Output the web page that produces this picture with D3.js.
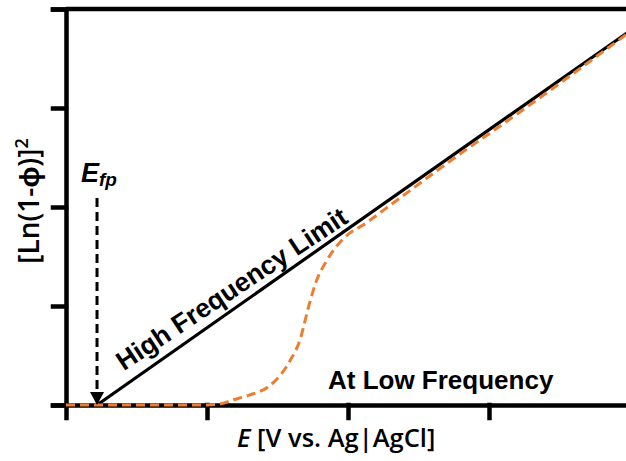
<!DOCTYPE html>
<html>
<head>
<meta charset="utf-8">
<script src="https://unpkg.com/d3@7/dist/d3.min.js"></script>
<style>
  body { margin: 0; background: #fff; }
  svg { display: block; }
</style>
</head>
<body>
<div class="container"></div>
<script>
// values (arbitrary units, ticks at 0..4)
const xTicks = [0, 1, 2, 3];
const yTicks = [0, 1, 2, 3, 4];
const efp = 0.22;
const highX = [0.22, 4.0];
const highY = [0, 3.78];
const lowX = [0, 0.95, 1.09, 1.18, 1.30, 1.43, 1.52, 1.59, 1.66, 1.72, 1.77, 1.85, 1.96, 2.13, 2.32, 2.72, 3.22, 4.0];
const lowY = [0, 0, 0.01, 0.05, 0.10, 0.18, 0.30, 0.45, 0.66, 0.99, 1.23, 1.46, 1.67, 1.84, 2.04, 2.46, 2.96, 3.77];

const w = 626, h = 461;
const svg = d3.select('.container').append('svg')
    .attr('width', w)
    .attr('height', h);

const x = d3.scaleLinear().domain([0, 4]).range([66, 630]);
const y = d3.scaleLinear().domain([0, 4]).range([405, 9]);

const yAxis = d3.axisLeft(y).tickValues(yTicks).tickSize(13).tickFormat('');
const xAxis = d3.axisBottom(x).tickValues(xTicks).tickSize(13).tickSizeOuter(0).tickFormat('');

svg.append('g')
    .attr('transform', 'translate(0,' + y(0) + ')')
    .call(xAxis);
svg.append('g')
    .attr('transform', 'translate(' + x(0) + ',0)')
    .call(yAxis);
svg.selectAll('.domain, .tick line')
    .attr('stroke', '#000')
    .attr('stroke-width', 4.5)
    .attr('stroke-linecap', 'square');

// top frame line
svg.append('line')
    .attr('x1', x(0)).attr('x2', x(4))
    .attr('y1', y(4)).attr('y2', y(4))
    .attr('stroke', '#000').attr('stroke-width', 4.5);

const line = d3.line().x(d => x(d[0])).y(d => y(d[1]));

// high frequency limit
svg.append('path')
    .datum(d3.zip(highX, highY))
    .attr('d', line)
    .attr('fill', 'none')
    .attr('stroke', '#000')
    .attr('stroke-width', 3.2);

// low frequency curve
svg.append('path')
    .datum(d3.zip(lowX, lowY))
    .attr('d', line.curve(d3.curveMonotoneX))
    .attr('fill', 'none')
    .attr('stroke', '#ED7D31')
    .attr('stroke-width', 3)
    .attr('stroke-dasharray', '9,5');

// flat-band potential arrow
svg.append('line')
    .attr('x1', x(efp)).attr('x2', x(efp))
    .attr('y1', y(2.09)).attr('y2', y(0) - 12)
    .attr('stroke', '#000')
    .attr('stroke-width', 3)
    .attr('stroke-dasharray', '9,5');
svg.append('path')
    .attr('d', 'M' + (x(efp) - 7) + ',' + (y(0) - 13) +
               'L' + (x(efp) + 7) + ',' + (y(0) - 13) +
               'L' + x(efp) + ',' + y(0) + 'Z')
    .attr('fill', '#000');

const efpText = svg.append('text')
    .attr('x', 81).attr('y', 182)
    .style('font-family', 'Liberation Sans, Arial, sans-serif')
    .style('font-weight', 'bold')
    .style('font-style', 'italic')
    .style('font-size', '27px');
efpText.append('tspan').text('E');
efpText.append('tspan').attr('dy', 4).style('font-size', '19px').text('fp');

// label along the line
const ang = Math.atan2(y(highY[1]) - y(highY[0]), x(highX[1]) - x(highX[0])) * 180 / Math.PI + 1.5;
svg.append('text')
    .attr('transform', 'translate(' + (x(0.41)) + ',' + (y(0.34)) + ') rotate(' + ang + ')')
    .style('font-family', 'Liberation Sans, Arial, sans-serif')
    .style('font-weight', 'bold')
    .style('font-size', '26.5px')
    .text('High Frequency Limit');

svg.append('text')
    .attr('x', 328).attr('y', 389)
    .style('font-family', 'Liberation Sans, Arial, sans-serif')
    .style('font-weight', 'bold')
    .style('font-size', '26px')
    .text('At Low Frequency');

// axis titles
const xt = svg.append('text')
    .attr('x', 237).attr('y', 447)
    .style('font-family', 'Open Sans, sans-serif')
    .style('font-weight', '600')
    .style('font-size', '25.5px');
xt.append('tspan').style('font-style', 'italic').text('E');
xt.append('tspan').text(' [V vs. Ag|AgCl]');

const yt = svg.append('text')
    .attr('transform', 'translate(39,201) rotate(-90)')
    .style('text-anchor', 'middle')
    .style('font-family', 'Open Sans, sans-serif')
    .style('font-weight', '600')
    .style('font-size', '28px');
yt.append('tspan').text('[Ln(1-ϕ)]');
yt.append('tspan').attr('dy', -11).style('font-size', '18px').text('2');
</script>
</body>
</html>
